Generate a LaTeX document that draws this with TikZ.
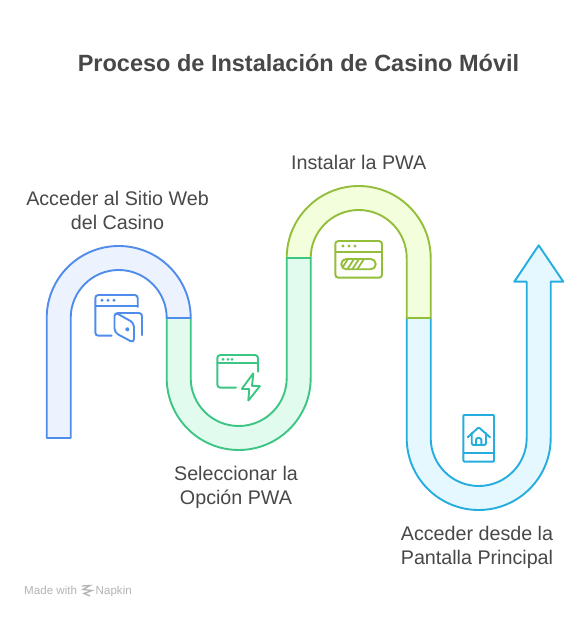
\documentclass[tikz,border=0pt]{standalone}
\usepackage{fontspec}
\setmainfont{Liberation Sans}
\definecolor{pathblue}{HTML}{4F8CEB}
\definecolor{pathbluefill}{HTML}{ECF3FF}
\definecolor{pathgreen}{HTML}{3CC583}
\definecolor{pathgreenfill}{HTML}{E2FBEF}
\definecolor{patholive}{HTML}{93BE3A}
\definecolor{patholivefill}{HTML}{F3FEDC}
\definecolor{pathcyan}{HTML}{24ADDE}
\definecolor{pathcyanfill}{HTML}{E6F8FF}
\definecolor{labelgray}{HTML}{484848}
\definecolor{markgray}{HTML}{B4B4B4}
\tikzset{
  segment/.style={line width=1.9pt, line join=round},
  icon/.style={line width=1.9pt, rounded corners=3pt, line cap=round},
  steplabel/.style={text=labelgray, align=center, font=\fontsize{19.7}{24}\selectfont},
  marklabel/.style={text=markgray, font=\fontsize{11.6}{13}\selectfont, anchor=base west, inner sep=0pt},
}

\begin{document}
\begin{tikzpicture}[x=1pt, y=1pt]
    \path[use as bounding box, fill=white] (0,0) rectangle (587,619);

    \node[text=labelgray, font=\fontsize{23.5}{28}\bfseries\selectfont] (title) at (298.5,556) {Proceso de Instalación de Casino Móvil};

    % ribbon, back to front
    \draw[segment, draw=pathcyan, fill=pathcyanfill] (406.7,301) -- (406.7,181) arc[start angle=180, end angle=360, radius=72]
      -- (550.7,337.3) -- (563.3,337.3) -- (538.7,373.7) -- (514.3,337.3) -- (526.7,337.3) -- (526.7,181)
      arc[start angle=0, end angle=-180, radius=48] -- (430.7,301) -- cycle;
    \draw[segment, draw=patholive, fill=patholivefill] (286.7,361) arc[start angle=180, end angle=0, radius=72]
      -- (430.7,301) -- (406.7,301) -- (406.7,361) arc[start angle=0, end angle=180, radius=48] -- cycle;
    \draw[segment, draw=pathgreen, fill=pathgreenfill] (166.7,301) -- (166.7,241) arc[start angle=180, end angle=360, radius=72]
      -- (310.7,361) -- (286.7,361) -- (286.7,241) arc[start angle=0, end angle=-180, radius=48] -- (190.7,301) -- cycle;
    \draw[segment, draw=pathblue, fill=pathbluefill] (46.7,181) -- (46.7,301) arc[start angle=180, end angle=0, radius=72]
      -- (166.7,301) arc[start angle=0, end angle=180, radius=48] -- (70.7,181) -- cycle;

    % window and wallet
    \begin{scope}[icon, draw=pathblue, fill=pathblue]
      \draw (111.7,283.3) -- (95.3,283.3) -- (95.3,324) -- (137.7,324) -- (137.7,312);
      \draw[rounded corners=0pt] (95.3,313.3) -- (137.7,313.3);
      \draw (117,306) -- (142,306) -- (142,283.7);
      \draw[fill=white, rounded corners=4pt] (114.5,307) -- (134,296) -- (134,276) -- (114.5,286.5) -- cycle;
      \foreach \dotx in {102,108,114} \fill (\dotx,318.8) circle (1.6pt);
      \fill (127.3,289.7) circle (2pt);
    \end{scope}

    % window and bolt
    \begin{scope}[icon, draw=pathgreen, fill=pathgreen]
      \draw (236,231.3) -- (217.3,231.3) -- (217.3,264) -- (258,264) -- (258,247.3);
      \draw[rounded corners=0pt] (217.3,255.7) -- (258,255.7);
      \draw[rounded corners=0.5pt] (253.3,245.7) -- (241.7,230) -- (249.3,230) -- (248.3,218.3) -- (260,233) -- (252,233) -- cycle;
      \foreach \dotx in {223,228,232} \fill (\dotx,259.6) circle (1.5pt);
    \end{scope}

    % window and progress bar
    \begin{scope}[icon, draw=patholive, fill=patholive]
      \draw (335.3,341.3) rectangle (382,378);
      \draw[rounded corners=0pt] (335.3,367.3) -- (382,367.3);
      \draw[rounded corners=5pt] (341.3,349.7) rectangle (375.7,360);
      \foreach \dotx in {343,349,355} \fill (\dotx,373) circle (1.6pt);
      \draw[rounded corners=0pt, line width=1.8pt, line cap=butt] (342.5,351.5) -- (348,360) (347.5,350) -- (354,360) (352.5,350) -- (359,360) (357.5,350) -- (364,360);
    \end{scope}

    % phone and house
    \begin{scope}[icon, draw=pathcyan, rounded corners=1pt]
      \draw (463.3,157.3) rectangle (494,204);
      \draw (463.3,165.7) -- (494,165.7);
      \draw (467.7,181.7) -- (478.7,191.7) -- (490,181.7);
      \draw[rounded corners=1.5pt] (471.7,186) -- (471.7,174) -- (486,174) -- (486,186);
      \draw[rounded corners=2pt] (476,174) -- (476,181) -- (481.3,181) -- (481.3,174);
    \end{scope}

    \node[steplabel] (acceder) at (117.5,409) {Acceder al Sitio Web\\del Casino};
    \node[steplabel] (instalar) at (358.7,457) {Instalar la PWA};
    \node[steplabel] (opcion) at (236,132) {Seleccionar la\\Opción PWA};
    \node[steplabel] (pantalla) at (477,72) {Acceder desde la\\Pantalla Principal};

    \node[marklabel] (madewith) at (24,24) {Made with};
    \node[marklabel] (napkin) at (95.5,24) {Napkin};
    \draw[markgray, line width=1.3pt] (82,33) -- (90,33.5) -- (83,29.5) -- (92,28.5) -- (84,25.5) -- (90,23);
  \end{tikzpicture}
\end{document}
